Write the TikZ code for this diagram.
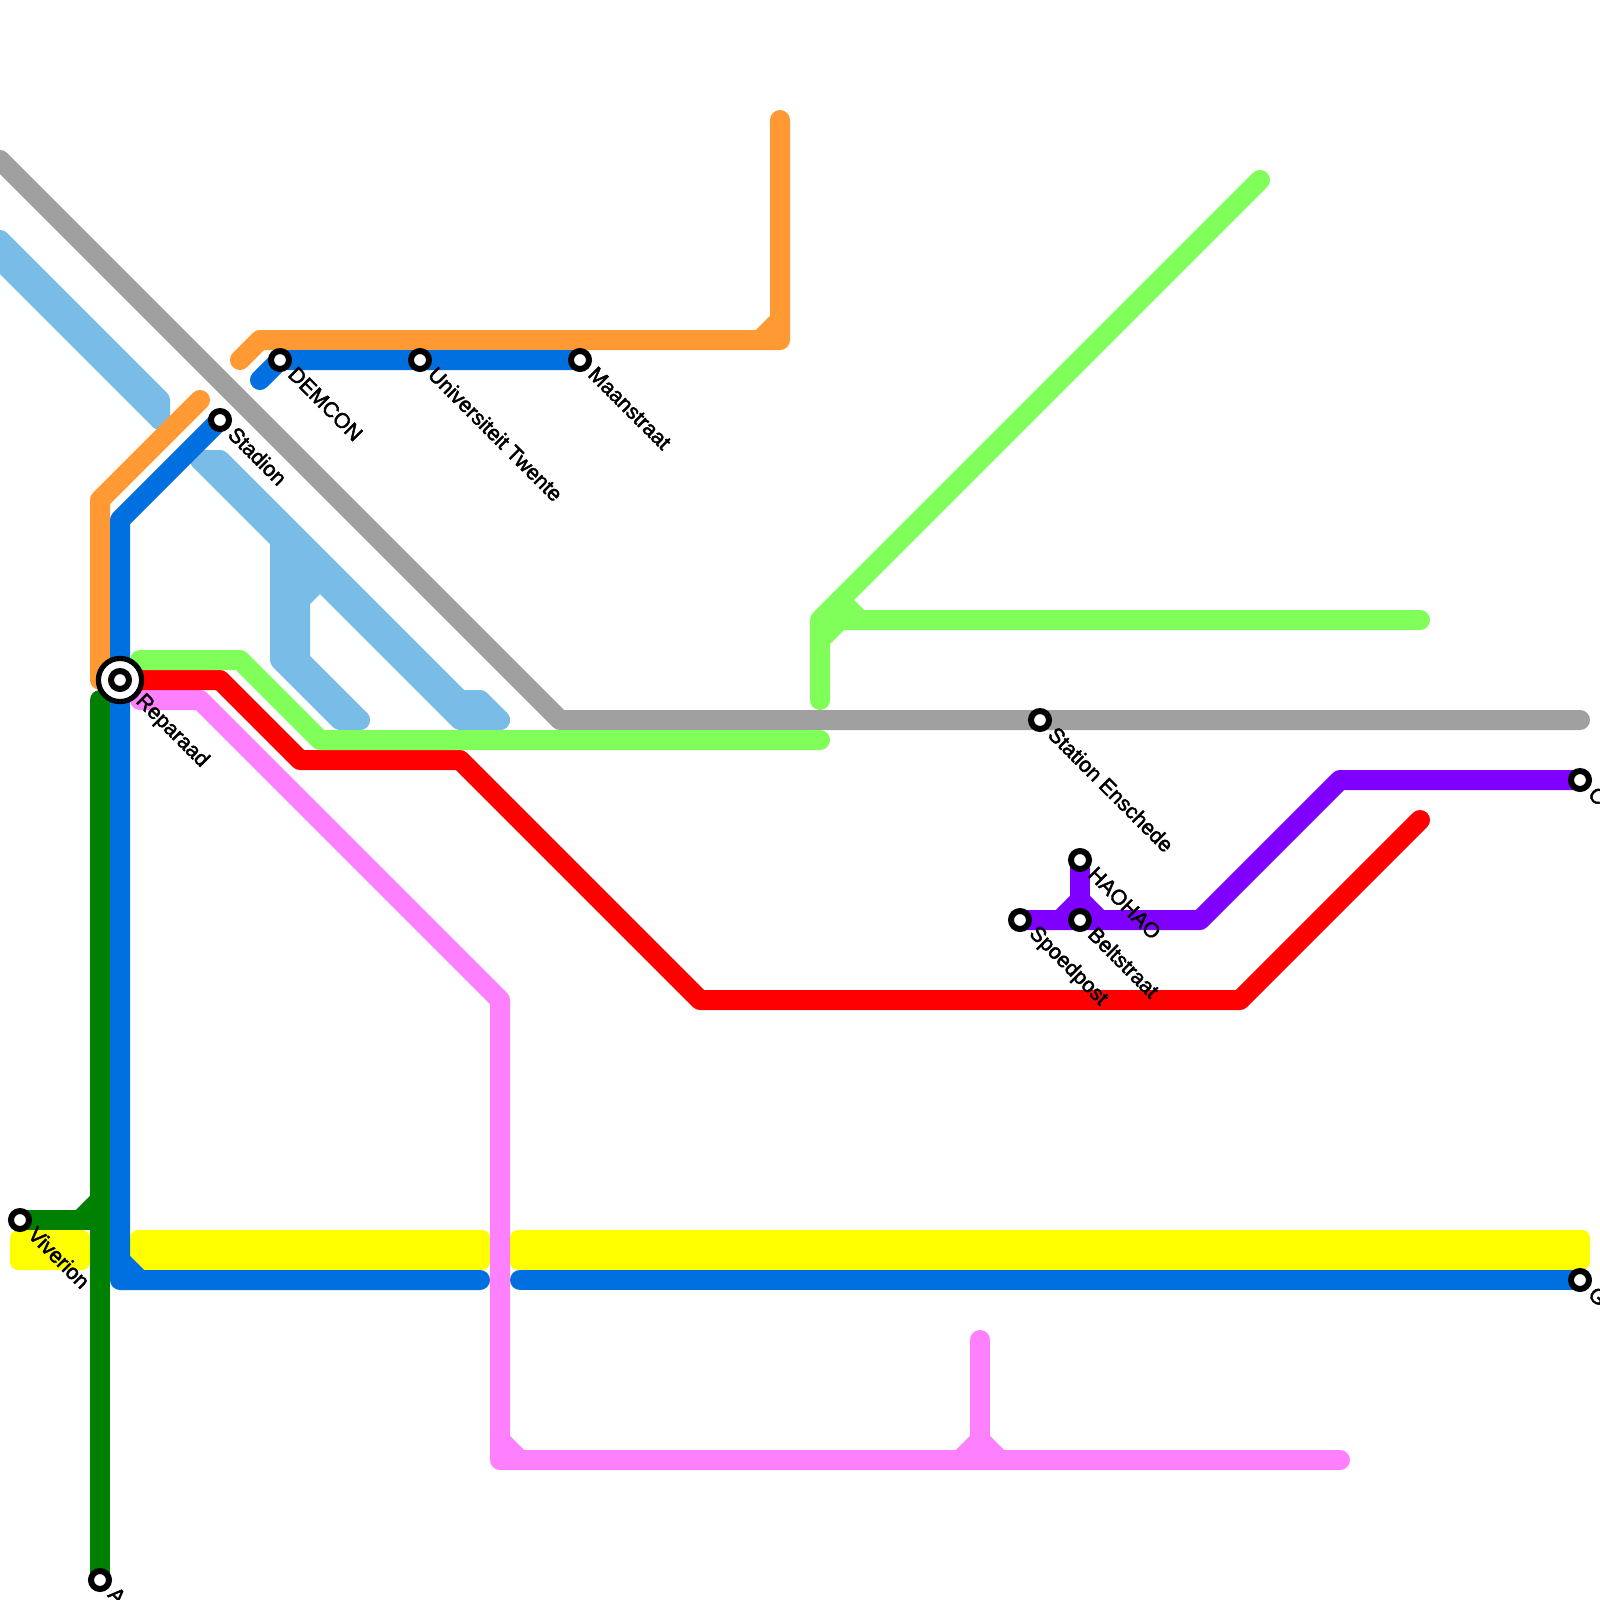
\documentclass[tikz,border=0pt]{standalone}
\usepackage{fontspec}
\setmainfont{Liberation Sans}
\newfontfamily\stationfont[FakeBold=2.2]{Liberation Sans}
\usetikzlibrary{calc}
\definecolor{linegrey}{RGB}{160,160,160}
\definecolor{linesky}{RGB}{122,188,232}
\definecolor{lineorange}{RGB}{255,153,51}
\definecolor{lineblue}{RGB}{0,112,224}
\definecolor{linegreen}{RGB}{0,128,0}
\definecolor{linelime}{RGB}{128,255,90}
\definecolor{linepink}{RGB}{255,128,255}
\definecolor{linepurple}{RGB}{128,0,255}
\definecolor{lineyellow}{RGB}{255,255,0}
\tikzset{
  metroline/.style={line width=5mm, line cap=round, line join=round},
  yellowbar/.style={fill=lineyellow, rounded corners=2mm},
  stationdot/.style={circle, draw=black, fill=white, line width=1.5mm, minimum size=4.5mm, inner sep=0pt},
  stationring/.style={circle, draw=black, fill=white, line width=1.3mm, minimum size=10.8mm, inner sep=0pt},
  stationlabel/.style={font=\stationfont\fontsize{15.1}{18}\selectfont, rotate=-45, anchor=west, inner sep=0pt},
}
\begin{document}
\begin{tikzpicture}[x=5mm, y=-5mm]
  \useasboundingbox (0,0) rectangle (80,80);
  % stations
  \coordinate (reparaad) at (6,34);
  \coordinate (stadion) at (11,21);
  \coordinate (demcon) at (14,18);
  \coordinate (utwente) at (21,18);
  \coordinate (maanstraat) at (29,18);
  \coordinate (enschede) at (52,36);
  \coordinate (haohao) at (54,43);
  \coordinate (beltstraat) at (54,46);
  \coordinate (spoedpost) at (51,46);
  \coordinate (viverion) at (1,61);
  \coordinate (purpleend) at (79,39);
  \coordinate (blueend) at (79,64);
  \coordinate (greenend) at (5,79);
  % free ends and junctions
  \coordinate (greystart) at (0,8);
  \coordinate (greyend) at (79,36);
  \coordinate (skya) at (0,12);
  \coordinate (skyb) at (0,13);
  \coordinate (skyc) at (8,21);
  \coordinate (skyd) at (10,23);
  \coordinate (skye) at (25,36);
  \coordinate (skyf) at (16,29);
  \coordinate (skyg) at (14,27);
  \coordinate (skyh) at (15,28);
  \coordinate (skyi) at (18,36);
  \coordinate (orangea) at (12,18);
  \coordinate (orangeb) at (39,6);
  \coordinate (orangec) at (38,17);
  \coordinate (oranged) at (39,16);
  \coordinate (oranget) at (5,34);
  \coordinate (orangeu) at (10,20);
  \coordinate (bluestub) at (13,19);
  \coordinate (bluecorner) at (6,64);
  \coordinate (bluegapl) at (24,64);
  \coordinate (bluegapr) at (26,64);
  \coordinate (bluenotch) at (7,64);
  \coordinate (greentop) at (5,35);
  \coordinate (greenjoin) at (5,60);
  \coordinate (greenfoot) at (5,61);
  \coordinate (pinkstart) at (7,35);
  \coordinate (pinkcorner) at (25,73);
  \coordinate (pinknotch) at (26,73);
  \coordinate (pinkend) at (67,73);
  \coordinate (pinktop) at (49,67);
  \coordinate (pinkfoot) at (49,73);
  \coordinate (redstart) at (7,34);
  \coordinate (redend) at (71,41);
  \coordinate (limea) at (7,33);
  \coordinate (limeb) at (41,37);
  \coordinate (limec) at (41,35);
  \coordinate (limed) at (41,31);
  \coordinate (limee) at (63,9);
  \coordinate (limef) at (71,31);
  % light blue bundle
  \draw[metroline, linesky] (skya) -- (8,20) -- (skyc);
  \draw[metroline, linesky] (skyb) -- (skyc);
  \draw[metroline, linesky] (skyd) -- (11,23) -- (23,35) -- (24,35) -- (skye);
  \draw[metroline, linesky] (skyd) -- (23,36) -- (skye);
  \draw[metroline, linesky] (skyg) -- (14,33) -- (17,36) -- (skyi);
  \draw[metroline, linesky] (skyf) -- (15,30) -- (15,33) -- (skyi);
  \draw[metroline, linesky] (skyh) -- (15,33);
  % grey
  \draw[metroline, linegrey] (greystart) -- (28,36) -- (greyend);
  % orange
  \draw[metroline, lineorange] (orangea) -- (13,17) -- (39,17) -- (orangeb);
  \draw[metroline, lineorange] (orangec) -- (oranged);
  \draw[metroline, lineorange] (oranget) -- (5,25) -- (orangeu);
  % yellow
  \fill[yellowbar] (0.5,61.5) rectangle (4.5,63.5);
  \fill[yellowbar] (6.5,61.5) rectangle (24.5,63.5);
  \fill[yellowbar] (25.5,61.5) rectangle (79.5,63.5);
  % green
  \draw[metroline, linegreen] (greentop) -- (greenend);
  \draw[metroline, linegreen] (viverion) -- (greenfoot);
  \draw[metroline, linegreen] (4,61) -- (greenjoin);
  % blue
  \draw[metroline, lineblue] (bluestub) -- (demcon) -- (maanstraat);
  \draw[metroline, lineblue] (stadion) -- (6,26) -- (bluecorner) -- (bluegapl);
  \draw[metroline, lineblue] (6,63) -- (bluenotch);
  \draw[metroline, lineblue] (bluegapr) -- (blueend);
  % pink
  \draw[metroline, linepink] (pinkstart) -- (10,35) -- (25,50) -- (pinkcorner) -- (pinkend);
  \draw[metroline, linepink] (25,72) -- (pinknotch);
  \draw[metroline, linepink] (pinktop) -- (pinkfoot);
  \draw[metroline, linepink] (48,73) -- (49,72) -- (50,73);
  % red
  \draw[metroline, red] (redstart) -- (11,34) -- (15,38) -- (23,38) -- (35,50) -- (62,50) -- (redend);
  % lime
  \draw[metroline, linelime] (limea) -- (12,33) -- (16,37) -- (limeb);
  \draw[metroline, linelime] (limec) -- (limed) -- (limee);
  \draw[metroline, linelime] (41,32) -- (42,31) -- (limef);
  \draw[metroline, linelime] (42,30) -- (43,31);
  % purple
  \draw[metroline, linepurple] (spoedpost) -- (60,46) -- (67,39) -- (purpleend);
  \draw[metroline, linepurple] (haohao) -- (54,45);
  \draw[metroline, linepurple] (53,46) -- (54,45) -- (55,46);
  % station markers
  \node[stationring] (reparaadring) at (reparaad) {};
  \foreach \stop in {reparaad,stadion,demcon,utwente,maanstraat,enschede,haohao,beltstraat,spoedpost,viverion,purpleend,blueend,greenend}{
    \node[stationdot] (\stop dot) at (\stop) {};
  }
  % labels
  \node[stationlabel] (reparaadname) at ([xshift=4.7mm,yshift=-4.5mm]reparaad) {Reparaad};
  \node[stationlabel] (stadionname) at ([xshift=3mm,yshift=-2.6mm]stadion) {Stadion};
  \node[stationlabel] (demconname) at ([xshift=3mm,yshift=-2.6mm]demcon) {DEMCON};
  \node[stationlabel] (utwentename) at ([xshift=3mm,yshift=-2.6mm]utwente) {Universiteit Twente};
  \node[stationlabel] (maanstraatname) at ([xshift=3mm,yshift=-2.6mm]maanstraat) {Maanstraat};
  \node[stationlabel] (enschedename) at ([xshift=3mm,yshift=-2.6mm]enschede) {Station Enschede};
  \node[stationlabel] (haohaoname) at ([xshift=3mm,yshift=-2.6mm]haohao) {HAOHAO};
  \node[stationlabel] (beltstraatname) at ([xshift=3mm,yshift=-2.6mm]beltstraat) {Beltstraat};
  \node[stationlabel] (spoedpostname) at ([xshift=3mm,yshift=-2.6mm]spoedpost) {Spoedpost};
  \node[stationlabel] (viverionname) at ([xshift=3mm,yshift=-2.6mm]viverion) {Viverion};
  \node[stationlabel] (purpleendname) at ([xshift=3mm,yshift=-2.6mm]purpleend) {C};
  \node[stationlabel] (blueendname) at ([xshift=3mm,yshift=-2.6mm]blueend) {G};
  \node[stationlabel] (greenendname) at ([xshift=3mm,yshift=-2.6mm]greenend) {A};
\end{tikzpicture}
\end{document}
